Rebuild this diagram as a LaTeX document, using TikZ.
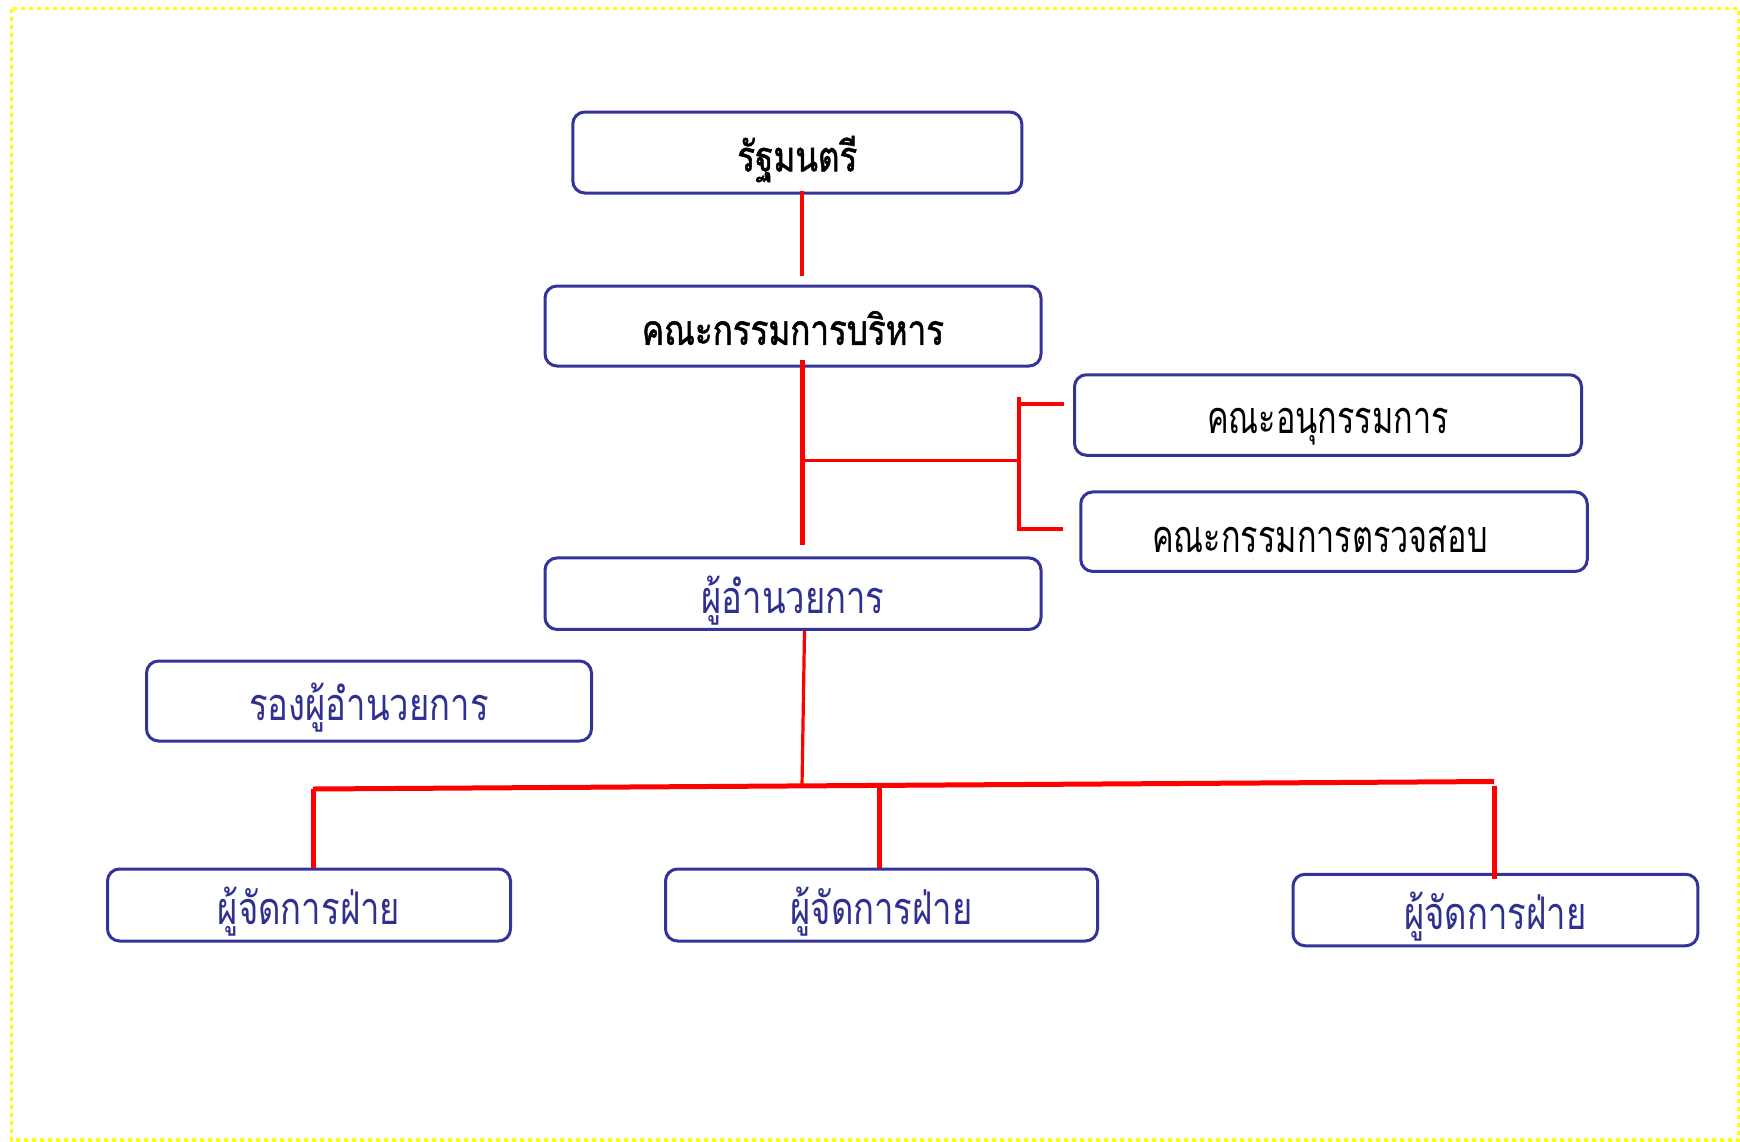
\documentclass[tikz,border=0pt]{standalone}
\usepackage{fontspec}
\usetikzlibrary{calc}
\newfontfamily\thaibold[Script=Thai,FakeStretch=0.79,FakeBold=1.2]{Loma}
\newfontfamily\thaicondk[Script=Thai,FakeStretch=0.72]{Loma}
\newfontfamily\thaicond[Script=Thai,FakeStretch=0.77]{Loma}
\newcommand{\lowtxt}[2]{\raisebox{-#1}[\height][\depth]{#2}}
\definecolor{boxblue}{RGB}{51,51,153}
\definecolor{textblue}{RGB}{46,49,146}
\definecolor{bordyellow}{RGB}{255,255,0}
\tikzset{
  orgbox/.style={draw=boxblue, line width=3pt, rounded corners=12pt, fill=white,
    inner sep=0pt, align=center},
  blackreg/.style={orgbox, font=\thaibold\fontsize{42}{48}\selectfont, text=black},
  blackcond/.style={orgbox, font=\thaicondk\fontsize{45}{50}\selectfont, text=black},
  bluecond/.style={orgbox, font=\thaicond\fontsize{45}{50}\selectfont, text=textblue},
  thinred/.style={draw=red, line width=3.2pt},
  thickred/.style={draw=red, line width=5pt},
}
\begin{document}
\begin{tikzpicture}[x=1pt,y=-1pt]
\useasboundingbox (0,0) rectangle (1740,1141);
\fill[white] (0,0) rectangle (1740,1141);
\draw[bordyellow, line width=3.5pt, dash pattern=on 4pt off 4pt] (11.5,8.5) rectangle (1738.5,1140);

\node[blackreg, minimum width=449pt, minimum height=81pt] (b1) at (797.3,152.5) {\lowtxt{6.5pt}{รัฐมนตรี}};
\node[blackreg, minimum width=496pt, minimum height=80pt] (b2) at (793,326) {\lowtxt{2pt}{คณะกรรมการบริหาร}};
\node[blackcond, minimum width=507pt, minimum height=80.5pt] (b3) at (1328,415) {\lowtxt{12pt}{คณะอนุกรรมการ}};
\node[blackcond, minimum width=506.5pt, minimum height=79.5pt] (b4) at (1334,531.7) {\lowtxt{8pt}{คณะกรรมการตรวจสอบ}\hspace*{28pt}};
\node[bluecond, minimum width=496pt, minimum height=71.5pt] (b5) at (793,593.7) {\lowtxt{7pt}{ผู้อำนวยการ}};
\node[bluecond, minimum width=445pt, minimum height=80pt] (b6) at (369,701) {\lowtxt{7pt}{รองผู้อำนวยการ}};
\node[bluecond, minimum width=403pt, minimum height=72pt] (b7) at (309,905) {\lowtxt{7pt}{ผู้จัดการฝ่าย}};
\node[bluecond, minimum width=432pt, minimum height=72pt] (b8) at (881.5,905) {\lowtxt{7pt}{ผู้จัดการฝ่าย}};
\node[bluecond, minimum width=404.8pt, minimum height=71.5pt] (b9) at (1495.4,910) {\lowtxt{7pt}{ผู้จัดการฝ่าย}};

\coordinate (spine) at (802,0);
\coordinate (br) at (802,460.5);
\coordinate (brk) at (1019,460.5);
\coordinate (brkT) at (1019,397);
\coordinate (brkB) at (1019,531);
\coordinate (tk1) at (1019,404);
\coordinate (tk2) at (1019,529);
\coordinate (hub) at (802,786);
\coordinate (busL) at (313,789);
\coordinate (busR) at (1494,781.5);
\coordinate (busM) at (879,786);
\coordinate (busRd) at (1494.6,785.7);

\draw[thinred, shorten <=-4pt, shorten >=9pt] (b1.south -| spine) -- (b2.north -| spine);
\draw[thickred, shorten <=-8pt, shorten >=11.5pt] (b2.south -| spine) -- (b5.north -| spine);
\draw[thinred] (br) -- (brk);
\draw[thinred] (brkT) -- (brkB);
\draw[thinred, shorten >=9.5pt] (tk1) -- (tk1 -| b3.west);
\draw[thinred, shorten >=16pt] (tk2) -- (tk2 -| b4.west);
\draw[thinred] ([xshift=11.5pt]b5.south) -- (hub);
\draw[thickred] (busL) -- (busR);
\draw[thickred] (busL) -- (busL |- b7.north);
\draw[thickred] (busM) -- (busM |- b8.north);
\draw[thickred, shorten >=-6.5pt] (busRd) -- (busRd |- b9.north);
\end{tikzpicture}
\end{document}
